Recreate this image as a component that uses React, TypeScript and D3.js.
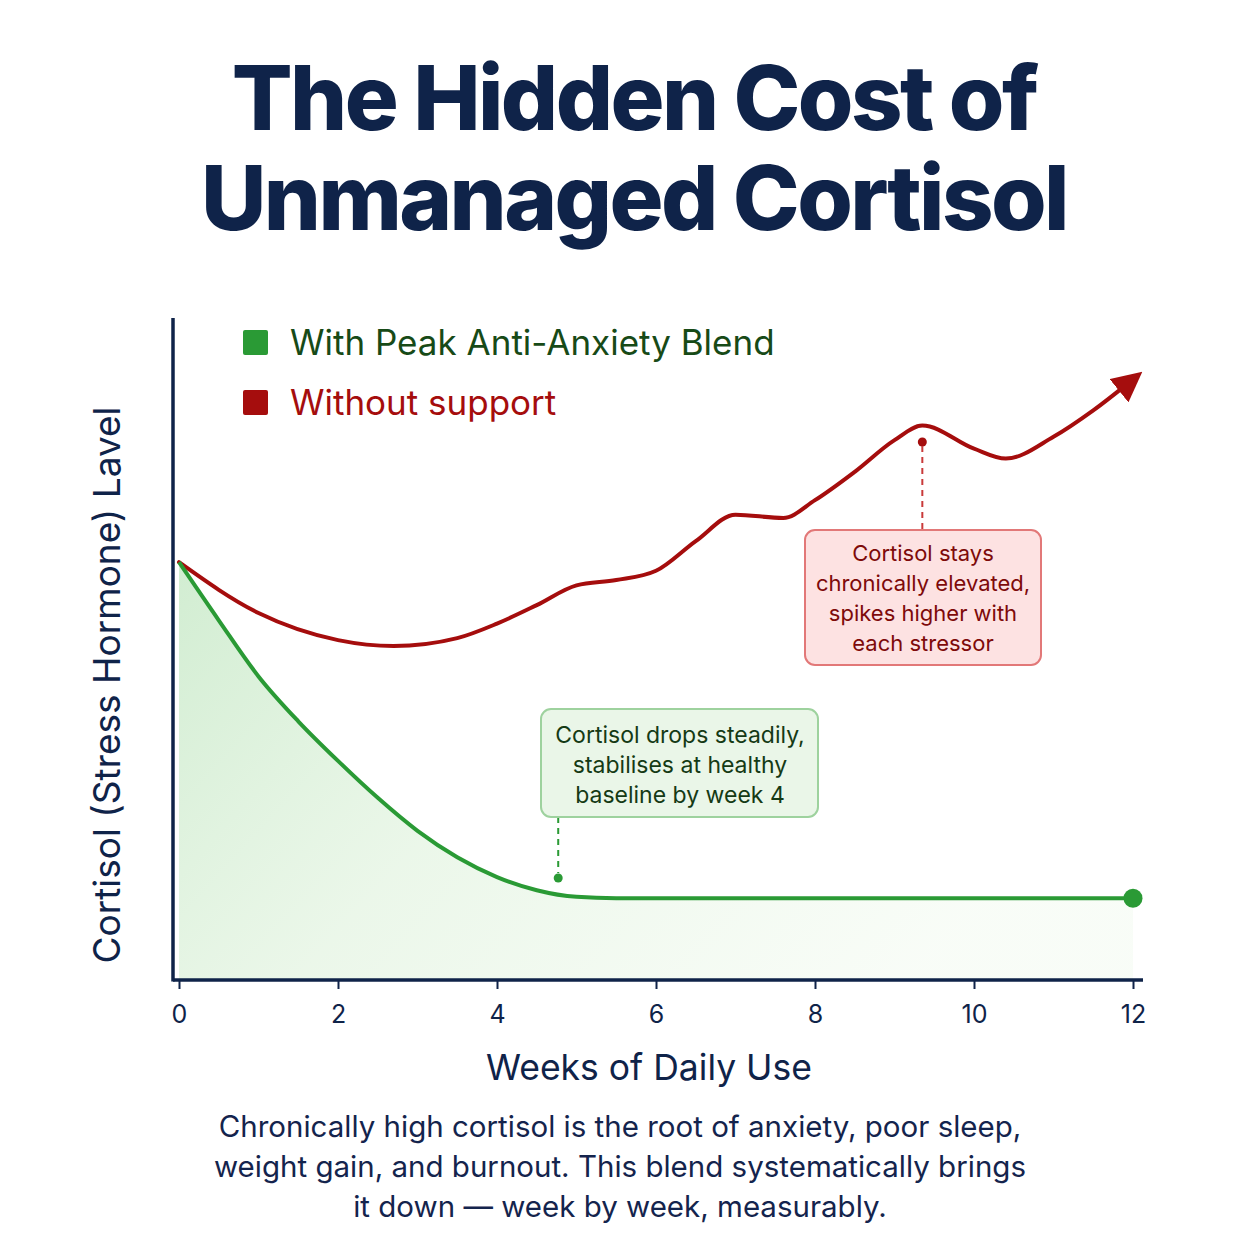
import { useEffect, useRef } from 'react';
import * as d3 from 'd3';

const weeksTicks = [0, 2, 4, 6, 8, 10, 12];

// cortisol level (0-100 relative scale)
const blendWeeks = [0, 0.5, 1, 1.5, 2, 2.5, 3, 3.5, 4, 4.5, 5, 5.5, 6, 12];
const blendLevel = [63.3, 54.5, 46, 39.2, 33.2, 27.6, 22.6, 18.6, 15.6, 13.6, 12.6, 12.4, 12.4, 12.4];

const noSupportWeeks = [0, 1, 2, 2.7, 3.5, 4, 4.5, 5, 5.5, 6, 6.5, 7, 7.6, 8, 8.5, 9, 9.35, 10, 10.4, 11, 11.5, 12];
const noSupportLevel = [63.3, 55.6, 51.5, 50.6, 51.8, 54, 56.8, 59.8, 60.6, 62, 66.5, 70.5, 70, 72.7, 77, 81.8, 84, 80.5, 79, 82.3, 86.3, 91];

const titleLines = ['The Hidden Cost of', 'Unmanaged Cortisol'];
const captionLines = [
  'Chronically high cortisol is the root of anxiety, poor sleep,',
  'weight gain, and burnout. This blend systematically brings',
  'it down \u2014 week by week, measurably.',
];
const redNote = ['Cortisol stays', 'chronically elevated,', 'spikes higher with', 'each stressor'];
const greenNote = ['Cortisol drops steadily,', 'stabilises at healthy', 'baseline by week 4'];

const NAVY = '#0f2349';
const GREEN = '#2a9a35';
const RED = '#a50d0d';
const FONT = 'Inter, "Noto Sans", sans-serif';

export default function App() {
  const svgRef = useRef(null);

  useEffect(() => {
    const svg = d3.select(svgRef.current);
    svg.selectAll('*').remove();

    const x = d3.scaleLinear().domain([0, 12]).range([179, 1133]);
    const y = d3.scaleLinear().domain([0, 100]).range([980, 320]);

    const defs = svg.append('defs');
    const grad = defs.append('linearGradient')
      .attr('id', 'greenFill')
      .attr('x1', '0').attr('y1', '0').attr('x2', '1').attr('y2', '0.4');
    grad.append('stop').attr('offset', '0%').attr('stop-color', '#cfeccf').attr('stop-opacity', 0.95);
    grad.append('stop').attr('offset', '45%').attr('stop-color', '#e6f5e4').attr('stop-opacity', 0.8);
    grad.append('stop').attr('offset', '100%').attr('stop-color', '#f4fbf2').attr('stop-opacity', 0.6);

    defs.append('marker')
      .attr('id', 'arrow')
      .attr('viewBox', '0 0 10 10')
      .attr('refX', 6).attr('refY', 5)
      .attr('markerWidth', 7.5).attr('markerHeight', 7.5)
      .attr('markerUnits', 'strokeWidth')
      .attr('orient', 'auto')
      .append('path')
      .attr('d', 'M0,0 L10,5 L0,10 z')
      .attr('fill', RED);

    // title
    svg.append('g').selectAll('text')
      .data(titleLines)
      .enter().append('text')
      .attr('x', 634)
      .attr('y', (d, i) => 130 + i * 100)
      .attr('text-anchor', 'middle')
      .attr('font-family', FONT)
      .attr('font-weight', 800)
      .attr('font-size', 90)
      .attr('letter-spacing', -2.6)
      .attr('fill', NAVY)
      .text(d => d);

    const blend = blendWeeks.map((w, i) => [w, blendLevel[i]]);
    const noSupport = noSupportWeeks.map((w, i) => [w, noSupportLevel[i]]);

    // green area
    const area = d3.area()
      .x(d => x(d[0]))
      .y0(y(0))
      .y1(d => y(d[1]))
      .curve(d3.curveMonotoneX);
    svg.append('path')
      .datum(blend)
      .attr('d', area)
      .attr('fill', 'url(#greenFill)');

    const line = d3.line()
      .x(d => x(d[0]))
      .y(d => y(d[1]))
      .curve(d3.curveMonotoneX);

    svg.append('path')
      .datum(noSupport)
      .attr('d', line)
      .attr('fill', 'none')
      .attr('stroke', RED)
      .attr('stroke-width', 4)
      .attr('stroke-linecap', 'round')
      .attr('marker-end', 'url(#arrow)');

    svg.append('path')
      .datum(blend)
      .attr('d', line)
      .attr('fill', 'none')
      .attr('stroke', GREEN)
      .attr('stroke-width', 4);

    svg.append('circle')
      .attr('cx', x(12)).attr('cy', y(12.4)).attr('r', 9.5)
      .attr('fill', GREEN);

    // axes
    const xAxis = svg.append('g')
      .attr('transform', `translate(0,${y(0)})`)
      .call(d3.axisBottom(x).tickValues(weeksTicks).tickSize(9).tickPadding(16));
    xAxis.select('.domain').remove();
    xAxis.selectAll('line').attr('stroke', NAVY).attr('stroke-width', 2);
    xAxis.selectAll('text')
      .attr('font-family', FONT)
      .attr('font-size', 25)
      .attr('fill', NAVY);

    svg.append('line')
      .attr('x1', 173).attr('x2', 1143)
      .attr('y1', y(0)).attr('y2', y(0))
      .attr('stroke', NAVY).attr('stroke-width', 3.5);
    svg.append('line')
      .attr('x1', 173).attr('x2', 173)
      .attr('y1', 318).attr('y2', y(0) + 1.5)
      .attr('stroke', NAVY).attr('stroke-width', 3.5);

    svg.append('text')
      .attr('x', 649).attr('y', 1080)
      .attr('text-anchor', 'middle')
      .attr('font-family', FONT)
      .attr('font-size', 35.5)
      .attr('fill', NAVY)
      .text('Weeks of Daily Use');

    svg.append('text')
      .attr('transform', 'translate(120,685) rotate(-90)')
      .attr('text-anchor', 'middle')
      .attr('font-family', FONT)
      .attr('font-size', 37)
      .attr('fill', NAVY)
      .text('Cortisol (Stress Hormone) Lavel');

    // legend
    const legend = [
      { label: 'With Peak Anti-Anxiety Blend', fill: GREEN, text: '#174a17' },
      { label: 'Without support', fill: RED, text: RED },
    ];
    const lg = svg.append('g').selectAll('g')
      .data(legend)
      .enter().append('g')
      .attr('transform', (d, i) => `translate(243,${330 + i * 60})`);
    lg.append('rect')
      .attr('width', 25).attr('height', 25).attr('rx', 2)
      .attr('fill', d => d.fill);
    lg.append('text')
      .attr('x', 47).attr('y', 25)
      .attr('font-family', FONT)
      .attr('font-size', 35)
      .attr('fill', d => d.text)
      .text(d => d.label);

    // red annotation
    const peakX = x(9.35);
    svg.append('circle').attr('cx', peakX).attr('cy', 442).attr('r', 4.5).attr('fill', RED);
    svg.append('line')
      .attr('x1', peakX).attr('x2', peakX)
      .attr('y1', 446).attr('y2', 530)
      .attr('stroke', '#c93a3a').attr('stroke-width', 2)
      .attr('stroke-dasharray', '6,5');
    svg.append('rect')
      .attr('x', 805).attr('y', 530).attr('width', 236).attr('height', 135).attr('rx', 10)
      .attr('fill', '#fde2e2').attr('stroke', '#e27878').attr('stroke-width', 2);
    svg.append('g').selectAll('text')
      .data(redNote)
      .enter().append('text')
      .attr('x', 923)
      .attr('y', (d, i) => 561 + i * 30)
      .attr('text-anchor', 'middle')
      .attr('font-family', FONT)
      .attr('font-size', 22)
      .attr('fill', '#7e0a0a')
      .text(d => d);

    // green annotation
    const dotX = x(4.77);
    svg.append('circle').attr('cx', dotX).attr('cy', 878).attr('r', 4.5).attr('fill', GREEN);
    svg.append('line')
      .attr('x1', dotX).attr('x2', dotX)
      .attr('y1', 817).attr('y2', 873)
      .attr('stroke', GREEN).attr('stroke-width', 2)
      .attr('stroke-dasharray', '6,5');
    svg.append('rect')
      .attr('x', 541).attr('y', 709).attr('width', 277).attr('height', 108).attr('rx', 10)
      .attr('fill', '#eaf6e8').attr('stroke', '#9ed29e').attr('stroke-width', 2);
    svg.append('g').selectAll('text')
      .data(greenNote)
      .enter().append('text')
      .attr('x', 680)
      .attr('y', (d, i) => 743 + i * 30)
      .attr('text-anchor', 'middle')
      .attr('font-family', FONT)
      .attr('font-size', 23)
      .attr('fill', '#153a15')
      .text(d => d);

    // caption
    svg.append('g').selectAll('text')
      .data(captionLines)
      .enter().append('text')
      .attr('x', 620)
      .attr('y', (d, i) => 1137 + i * 40)
      .attr('text-anchor', 'middle')
      .attr('font-family', FONT)
      .attr('font-size', 29.5)
      .attr('fill', '#14244d')
      .text(d => d);
  }, []);

  return (
    <div style={{ margin: -8, background: '#fff', width: 1254, height: 1254 }}>
      <svg ref={svgRef} width={1254} height={1254} style={{ display: 'block' }} />
    </div>
  );
}
